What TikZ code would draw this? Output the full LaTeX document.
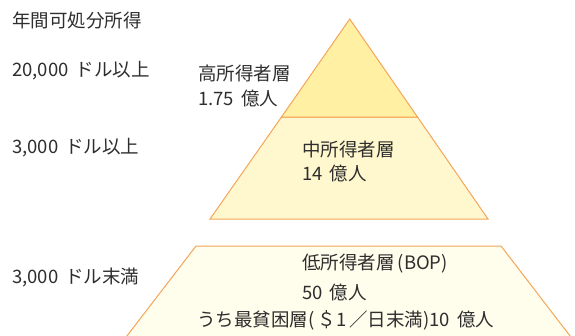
\documentclass[tikz,border=0pt]{standalone}
\usepackage{fontspec}
\setmainfont{Noto Sans CJK JP}
\definecolor{edge}{HTML}{F5A558}
\definecolor{topfill}{HTML}{FFF0A3}
\definecolor{midfill}{HTML}{FFF8CE}
\definecolor{lowfill}{HTML}{FFFDEC}
\definecolor{txt}{HTML}{2E2E2E}
\newcommand{\nsp}{\hspace{0.38em}}
\begin{document}
\begin{tikzpicture}[x=1pt,y=-1pt,
  lbl/.style={anchor=west,inner sep=0pt,text=txt,font=\fontsize{18.5}{21}\selectfont},
  layer/.style={draw=edge,line width=1pt,line join=miter}]
\useasboundingbox (0,0) rectangle (575,335);
\clip (0,0) rectangle (575,335);
% pyramid layers
\fill[lowfill] (196,246) -- (501,246) -- (577,345) -- (120,345) -- cycle;
\draw[layer] (120,345) -- (196,246) -- (501,246) -- (577,345);
\filldraw[layer,fill=midfill] (281.5,117) -- (417.5,117) -- (488,219) -- (210,219) -- cycle;
\filldraw[layer,fill=topfill] (349.7,19) -- (417.5,117) -- (281.5,117) -- cycle;
% left labels
\node[lbl] (h) at (12,20) {年間可処分所得};
\node[lbl] (a) at (12,71) {20,000\nsp ドル以上};
\node[lbl] (b) at (12,148) {3,000\nsp ドル以上};
\node[lbl] (c) at (12,277) {3,000\nsp ドル末満};
% layer labels
\node[lbl] (t1) at (198,73) {高所得者層};
\node[lbl] (t2) at (198,98) {1.75\nsp 億人};
\node[lbl] (m1) at (302,149) {中所得者層};
\node[lbl] (m2) at (302,173) {14\nsp 億人};
\node[lbl] (l1) at (302,264) {低所得者層\,(BOP)};
\node[lbl] (l2) at (302,292) {50\nsp 億人};
\node[lbl] (l3) at (197,320) {うち最貧困層(\,＄1\,／日末満)10\nsp 億人};
\end{tikzpicture}
\end{document}
